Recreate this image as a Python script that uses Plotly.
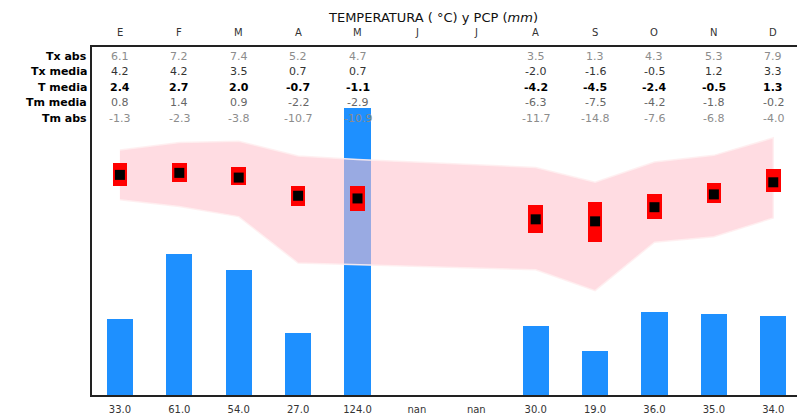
import plotly.graph_objects as go

months = ["E", "F", "M", "A", "M", "J", "J", "A", "S", "O", "N", "D"]
tx_abs = [6.1, 7.2, 7.4, 5.2, 4.7, None, None, 3.5, 1.3, 4.3, 5.3, 7.9]
tx_media = [4.2, 4.2, 3.5, 0.7, 0.7, None, None, -2.0, -1.6, -0.5, 1.2, 3.3]
t_media = [2.4, 2.7, 2.0, -0.7, -1.1, None, None, -4.2, -4.5, -2.4, -0.5, 1.3]
tm_media = [0.8, 1.4, 0.9, -2.2, -2.9, None, None, -6.3, -7.5, -4.2, -1.8, -0.2]
tm_abs = [-1.3, -2.3, -3.8, -10.7, -10.9, None, None, -11.7, -14.8, -7.6, -6.8, -4.0]
pcp = [33.0, 61.0, 54.0, 27.0, 124.0, None, None, 30.0, 19.0, 36.0, 35.0, 34.0]

row_names = ["Tx abs", "Tx media", "T media", "Tm media", "Tm abs"]
row_values = [tx_abs, tx_media, t_media, tm_media, tm_abs]

# page body has an 8px margin; figure geometry compensates for it
OFF = 8
W, H = 805 - OFF, 418 - OFF
L, R, T, B = 92 - OFF, 802 - OFF, 47 - OFF, 396 - OFF
FONT = "DejaVu Sans"

def px(xp):
    return (xp - OFF - L) / (R - L)

def py(yp):
    return (B - (yp - OFF)) / (B - T)

xs = list(range(len(months)))

fig = go.Figure()

# precipitation bars
fig.add_trace(go.Bar(
    x=xs, y=pcp, width=0.44, marker=dict(color="#1E90FF", line=dict(width=0)),
    yaxis="y", showlegend=False, hoverinfo="skip"))

# absolute temperature band
valid = [i for i in xs if tx_abs[i] is not None and tm_abs[i] is not None]
band_x = valid + valid[::-1]
band_y = [tx_abs[i] for i in valid] + [tm_abs[i] for i in valid[::-1]]
fig.add_trace(go.Scatter(
    x=band_x, y=band_y, fill="toself", mode="lines",
    fillcolor="rgba(255,192,203,0.55)",
    line=dict(color="rgba(255,238,240,0.9)", width=1.5),
    yaxis="y2", showlegend=False, hoverinfo="skip"))

# mean max / mean min rectangles
vm = [i for i in xs if tx_media[i] is not None]
fig.add_trace(go.Bar(
    x=vm, y=[tx_media[i] - tm_media[i] for i in vm], base=[tm_media[i] for i in vm],
    width=0.245, marker=dict(color="#FF0000", line=dict(width=0)),
    yaxis="y3", showlegend=False, hoverinfo="skip"))

# mean temperature squares
vt = [i for i in xs if t_media[i] is not None]
fig.add_trace(go.Scatter(
    x=vt, y=[t_media[i] for i in vt], mode="markers",
    marker=dict(symbol="square", size=10, color="black", line=dict(width=0)),
    yaxis="y3", showlegend=False, hoverinfo="skip"))

annotations = []
# title
annotations.append(dict(
    text="TEMPERATURA ( °C) y PCP (<i>mm</i>)", xref="paper", yref="paper",
    x=px(327), y=py(17), xanchor="left", yanchor="middle", showarrow=False,
    font=dict(family=FONT, size=13, color="#111")))
# month labels
for i, m in enumerate(months):
    annotations.append(dict(
        text=m, xref="x", yref="paper", x=i, y=py(32.5), xanchor="center",
        yanchor="middle", showarrow=False, font=dict(family=FONT, size=10, color="#333")))

row_colors = ["#8c8c8c", "#333333", "#000000", "#666666", "#8c8c8c"]
row_bold = [False, False, True, False, False]
for r, (name, vals) in enumerate(zip(row_names, row_values)):
    yy = py(56.5 + r * 15.5)
    annotations.append(dict(
        text="<b>%s</b>" % name, xref="paper", yref="paper", x=px(89), y=yy,
        xanchor="right", yanchor="middle", showarrow=False,
        font=dict(family=FONT, size=11, color="#000")))
    for i, v in enumerate(vals):
        if v is None:
            continue
        s = "%.1f" % v
        if row_bold[r]:
            s = "<b>%s</b>" % s
        annotations.append(dict(
            text=s, xref="x", yref="paper", x=i, y=yy, xanchor="center",
            yanchor="middle", showarrow=False,
            font=dict(family=FONT, size=11, color=row_colors[r])))

pcp_labels = ["nan" if v is None else "%.1f" % v for v in pcp]

fig.update_layout(
    width=W, height=H,
    margin=dict(l=L, r=W - R, t=T, b=H - B),
    paper_bgcolor="white", plot_bgcolor="white",
    barmode="overlay", bargap=0,
    showlegend=False,
    annotations=annotations,
    xaxis=dict(range=[-0.47, 11.45], tickmode="array", tickvals=xs, ticktext=pcp_labels,
               showgrid=False, zeroline=False, showline=True, mirror=True,
               linecolor="#222", linewidth=1.5, ticks="outside", ticklen=4,
               tickcolor="rgba(0,0,0,0)",
               tickfont=dict(family=FONT, size=10, color="#333")),
    yaxis=dict(range=[0, 150.4], showgrid=False, zeroline=False, showticklabels=False,
               showline=True, mirror=True, linecolor="#222", linewidth=1.5, ticks=""),
    yaxis2=dict(range=[-30.3, 21.4], overlaying="y", visible=False, showgrid=False),
    yaxis3=dict(range=[-30.3, 21.4], overlaying="y", visible=False, showgrid=False),
)

fig.write_html("out.html")
